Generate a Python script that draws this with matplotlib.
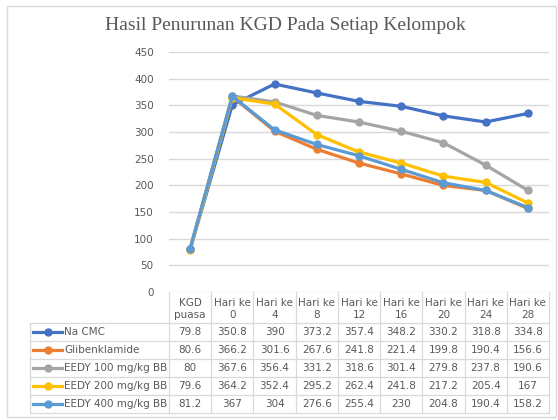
import matplotlib.pyplot as plt
from matplotlib.lines import Line2D
from matplotlib.patches import Rectangle
from matplotlib.transforms import blended_transform_factory

# data
categories = ["KGD\npuasa", "Hari ke\n0", "Hari ke\n4", "Hari ke\n8", "Hari ke\n12",
              "Hari ke\n16", "Hari ke\n20", "Hari ke\n24", "Hari ke\n28"]
series_names = ["Na CMC", "Glibenklamide", "EEDY 100 mg/kg BB",
                "EEDY 200 mg/kg BB", "EEDY 400 mg/kg BB"]
na_cmc = [79.8, 350.8, 390, 373.2, 357.4, 348.2, 330.2, 318.8, 334.8]
glibenklamide = [80.6, 366.2, 301.6, 267.6, 241.8, 221.4, 199.8, 190.4, 156.6]
eedy_100 = [80, 367.6, 356.4, 331.2, 318.6, 301.4, 279.8, 237.8, 190.6]
eedy_200 = [79.6, 364.2, 352.4, 295.2, 262.4, 241.8, 217.2, 205.4, 167]
eedy_400 = [81.2, 367, 304, 276.6, 255.4, 230, 204.8, 190.4, 158.2]
labels = [["79.8", "350.8", "390", "373.2", "357.4", "348.2", "330.2", "318.8", "334.8"],
          ["80.6", "366.2", "301.6", "267.6", "241.8", "221.4", "199.8", "190.4", "156.6"],
          ["80", "367.6", "356.4", "331.2", "318.6", "301.4", "279.8", "237.8", "190.6"],
          ["79.6", "364.2", "352.4", "295.2", "262.4", "241.8", "217.2", "205.4", "167"],
          ["81.2", "367", "304", "276.6", "255.4", "230", "204.8", "190.4", "158.2"]]
yticks = [0, 50, 100, 150, 200, 250, 300, 350, 400, 450]

series = [na_cmc, glibenklamide, eedy_100, eedy_200, eedy_400]
colors = ["#4472C4", "#ED7D31", "#A5A5A5", "#FFC000", "#5B9BD5"]
GRID = "#D9D9D9"
TXT = "#595959"

W, H = 558, 420
fig = plt.figure(figsize=(W / 100, H / 100), dpi=100)
ax = fig.add_axes([169 / W, 1 - 292 / H, (549 - 169) / W, (292 - 52) / H])

x = list(range(len(categories)))
for vals, c in zip(series, colors):
    ax.plot(x, vals, color=c, linewidth=2.3, marker="o", markersize=5,
            markeredgecolor=c, markerfacecolor=c)

ax.set_xlim(-0.5, len(categories) - 0.5)
ax.set_ylim(0, 450)
ax.set_yticks(yticks)
ax.set_yticklabels([str(v) for v in yticks], fontsize=7.5, color=TXT)
ax.tick_params(axis="y", length=0, pad=11)
ax.set_xticks([])
ax.grid(axis="y", color=GRID, linewidth=1)
ax.set_axisbelow(True)
for s in ax.spines.values():
    s.set_visible(False)

# data table below the plot
tr = blended_transform_factory(ax.transData, fig.transFigure)
def fy(py):
    return 1 - py / H

head_top, head_bot = 292, 323
row_h = 18
rows_bot = head_bot + row_h * len(series)
line_kw = dict(color=GRID, linewidth=0.9, clip_on=False)

# vertical cell borders
for i in range(len(categories) + 1):
    ax.add_line(Line2D([i - 0.5, i - 0.5], [fy(head_top), fy(rows_bot)], transform=tr, **line_kw))
# horizontal borders in value area
for py in [head_bot + k * row_h for k in range(len(series) + 1)]:
    ax.add_line(Line2D([-0.5, len(categories) - 0.5], [fy(py), fy(py)], transform=tr, **line_kw))
# row-label area borders
fig.add_artist(Line2D([30 / W, 169 / W], [fy(head_bot), fy(head_bot)], transform=fig.transFigure,
                      color=GRID, linewidth=0.9))
fig.add_artist(Line2D([30 / W, 30 / W], [fy(head_bot), fy(rows_bot)], transform=fig.transFigure,
                      color=GRID, linewidth=0.9))
for k in range(1, len(series) + 1):
    py = head_bot + k * row_h
    fig.add_artist(Line2D([30 / W, 169 / W], [fy(py), fy(py)], transform=fig.transFigure,
                          color=GRID, linewidth=0.9))

for i, cat in enumerate(categories):
    ax.text(i, fy((head_top + head_bot) / 2 + 1), cat, transform=tr, ha="center", va="center",
            fontsize=7.5, color=TXT, linespacing=1.25)

for r, (name, c) in enumerate(zip(series_names, colors)):
    yc = fy(head_bot + r * row_h + row_h / 2)
    for i, lab in enumerate(labels[r]):
        ax.text(i, yc, lab, transform=tr, ha="center", va="center", fontsize=7.5, color=TXT)
    fig.add_artist(Line2D([33 / W, 62 / W], [yc, yc], transform=fig.transFigure,
                          color=c, linewidth=2.3))
    fig.add_artist(Line2D([47.5 / W], [yc], transform=fig.transFigure, color=c,
                          marker="o", markersize=5, linestyle="none"))
    fig.text(64 / W, yc, name, ha="left", va="center", fontsize=7.5, color=TXT)

fig.text(285 / W, fy(25), "Hasil Penurunan KGD Pada Setiap Kelompok",
         ha="center", va="center", fontsize=14, color=TXT, family="Liberation Serif")

fig.add_artist(Rectangle((7 / W, fy(417)), (556 - 7) / W, (417 - 6) / H, transform=fig.transFigure,
                         fill=False, edgecolor=GRID, linewidth=1))

fig.savefig("out.png", dpi=100)
